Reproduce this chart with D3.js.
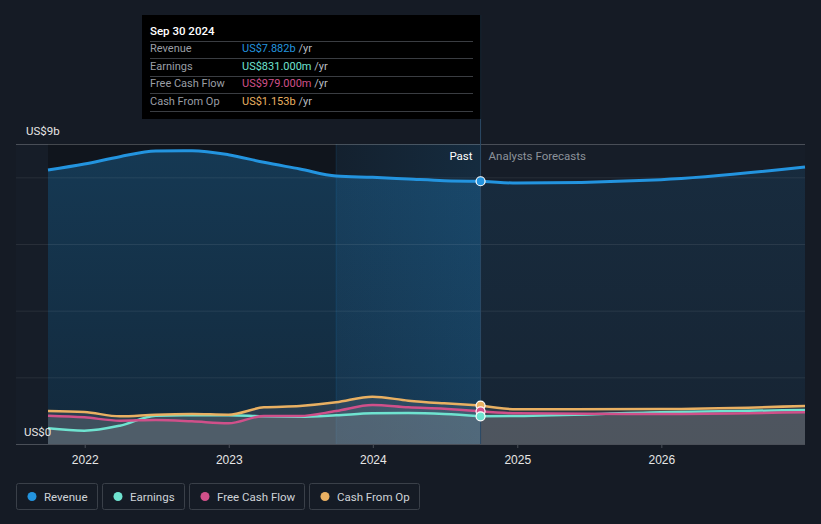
<!DOCTYPE html>
<html><head><meta charset="utf-8">
<script src="https://cdn.jsdelivr.net/npm/d3@7"></script>
<style>
html,body{margin:0;padding:0;background:#151b25;}
svg{display:block;font-family:Roboto, "Open Sans", sans-serif;}
</style></head>
<body>
<svg id="c" width="821" height="524"></svg>
<script>
// ---- data (US$ billions) ----
const pastDates = ["2021-09-30","2021-12-31","2022-03-31","2022-06-30","2022-09-30","2022-12-31","2023-03-31","2023-06-30","2023-09-30","2023-12-31","2024-03-31","2024-06-30","2024-09-30"];
const forecastDates = ["2024-09-30","2024-12-31","2025-12-31","2026-12-31"];
const revenuePast   = [8.22, 8.40, 8.62, 8.79, 8.80, 8.68, 8.45, 8.25, 8.04, 8.00, 7.95, 7.90, 7.882];
const earningsPast  = [0.47, 0.40, 0.55, 0.85, 0.86, 0.86, 0.83, 0.82, 0.86, 0.92, 0.93, 0.90, 0.831];
const fcfPast       = [0.85, 0.80, 0.70, 0.72, 0.68, 0.62, 0.84, 0.84, 0.99, 1.17, 1.10, 1.06, 0.979];
const cfoPast       = [0.99, 0.96, 0.83, 0.88, 0.90, 0.88, 1.10, 1.14, 1.25, 1.42, 1.30, 1.22, 1.153];
const revenueFc     = [7.882, 7.83, 7.93, 8.31];
const earningsFc    = [0.831, 0.84, 0.95, 1.02];
const fcfFc         = [0.979, 0.92, 0.90, 0.95];
const cfoFc         = [1.153, 1.04, 1.05, 1.14];
const xTicks = ["2022","2023","2024","2025","2026"];
const seriesNames = ["Revenue","Earnings","Free Cash Flow","Cash From Op"];
const seriesColors = ["#2394df","#6fe3d0","#d0508a","#e9b062"];
const tooltipValues = ["US$7.882b","US$831.000m","US$979.000m","US$1.153b"];
const tooltipDate = "Sep 30 2024";

const parse = d3.timeParse("%Y-%m-%d");
const svg = d3.select("#c");
const L = 16, R = 805, T = 144, B = 444;
const x = d3.scaleTime().domain([parse("2021-09-30"), parse("2026-12-31")]).range([48, R]);
const y = d3.scaleLinear().domain([0, 9]).range([B, T]);
const nowX = x(parse("2024-09-30"));
const yrAgoX = x(parse("2023-09-30"));

const mk = (dates, vals) => dates.map((d,i)=>({d:parse(d), v:vals[i]}));
const rev = mk(pastDates, revenuePast), revF = mk(forecastDates, revenueFc);
const small = [
  {p:mk(pastDates, earningsPast), f:mk(forecastDates, earningsFc), c:seriesColors[1]},
  {p:mk(pastDates, fcfPast), f:mk(forecastDates, fcfFc), c:seriesColors[2]},
  {p:mk(pastDates, cfoPast), f:mk(forecastDates, cfoFc), c:seriesColors[3]}
];

const defs = svg.append("defs");
const g1 = defs.append("linearGradient").attr("id","revPast").attr("x1",0).attr("x2",0).attr("y1",0).attr("y2",1);
g1.append("stop").attr("offset","0").attr("stop-color","#2394df").attr("stop-opacity",0.28);
g1.append("stop").attr("offset","1").attr("stop-color","#2394df").attr("stop-opacity",0.16);
const g2 = defs.append("linearGradient").attr("id","revFc").attr("x1",0).attr("x2",0).attr("y1",0).attr("y2",1);
g2.append("stop").attr("offset","0").attr("stop-color","#2394df").attr("stop-opacity",0.12);
g2.append("stop").attr("offset","1").attr("stop-color","#2394df").attr("stop-opacity",0.06);
const g3 = defs.append("linearGradient").attr("id","hl").attr("x1",0).attr("x2",1).attr("y1",0).attr("y2",0);
g3.append("stop").attr("offset","0").attr("stop-color","#2394df").attr("stop-opacity",0.03);
g3.append("stop").attr("offset","1").attr("stop-color","#2394df").attr("stop-opacity",0.12);

// plot background
svg.append("rect").attr("x",L).attr("y",T).attr("width",R-L).attr("height",B-T).attr("fill","#161d28");
svg.append("rect").attr("x",48).attr("y",T).attr("width",yrAgoX-48).attr("height",B-T).attr("fill","#10151d");
svg.append("rect").attr("x",yrAgoX).attr("y",T).attr("width",nowX-yrAgoX).attr("height",B-T).attr("fill","#131d29");

const curve = d3.curveMonotoneX;
const area = d3.area().x(d=>x(d.d)).y0(B).y1(d=>y(d.v)).curve(curve);
const line = d3.line().x(d=>x(d.d)).y(d=>y(d.v)).curve(curve);

svg.append("path").datum(rev).attr("d",area).attr("fill","url(#revPast)");
svg.append("path").datum(revF).attr("d",area).attr("fill","url(#revFc)");
// highlight last-year band
svg.append("rect").attr("x",yrAgoX).attr("y",T).attr("width",nowX-yrAgoX).attr("height",B-T).attr("fill","url(#hl)");
svg.append("line").attr("x1",yrAgoX).attr("x2",yrAgoX).attr("y1",T).attr("y2",B).attr("stroke","#2394df").attr("stroke-opacity",0.15);

// gridlines
const grid = [2,4,6,8,9];
svg.append("g").selectAll("line").data(grid).join("line")
  .attr("x1",L).attr("x2",R).attr("y1",d=>y(d)+0.5).attr("y2",d=>y(d)+0.5)
  .attr("stroke", "#ffffff").attr("stroke-opacity", d=> d===9 ? 0.22 : 0.08).attr("stroke-width",1);

// small series areas
small.forEach(s=>{
  svg.append("path").datum(s.p).attr("d",area).attr("fill","#b8b8b8").attr("fill-opacity",0.14);
  svg.append("path").datum(s.f).attr("d",area).attr("fill","#9a9a9a").attr("fill-opacity",0.17);
});

// vertical divider
svg.append("line").attr("x1",nowX).attr("x2",nowX).attr("y1",15).attr("y2",B).attr("stroke","#2b4a66").attr("stroke-width",1);

// lines
small.forEach(s=>{
  svg.append("path").datum(s.p).attr("d",line).attr("fill","none").attr("stroke",s.c).attr("stroke-width",2.5);
  svg.append("path").datum(s.f).attr("d",line).attr("fill","none").attr("stroke",s.c).attr("stroke-width",2.5);
});
svg.append("path").datum(rev).attr("d",line).attr("fill","none").attr("stroke",seriesColors[0]).attr("stroke-width",3);
svg.append("path").datum(revF).attr("d",line).attr("fill","none").attr("stroke",seriesColors[0]).attr("stroke-width",3);

// baseline
svg.append("line").attr("x1",L).attr("x2",R).attr("y1",B+0.5).attr("y2",B+0.5).attr("stroke","#4a4f58");

// dots at Sep 30 2024
const dotVals = [revenuePast[12], cfoPast[12], fcfPast[12], earningsPast[12]];
const dotCols = [seriesColors[0], seriesColors[3], seriesColors[2], seriesColors[1]];
dotVals.forEach((v,i)=>{
  svg.append("circle").attr("cx",nowX).attr("cy",y(v)).attr("r",4.5)
    .attr("fill",dotCols[i]).attr("stroke","#ffffff").attr("stroke-width",1.2);
});

// x axis
const xAxis = d3.axisBottom(x).tickValues(xTicks.map(t=>parse(t+"-01-01"))).tickFormat(d3.timeFormat("%Y")).tickSize(4);
const ax = svg.append("g").attr("transform",`translate(0,${B})`).call(xAxis);
ax.select(".domain").remove();
ax.selectAll("line").attr("stroke","#4a4f58");
ax.selectAll("text").attr("fill","#e6e6e6").attr("font-size",12).attr("dy","1.05em");

// y labels
svg.append("text").attr("x",26).attr("y",135).attr("fill","#e6e6e6").attr("font-size",11.5).text("US$9b");
svg.append("text").attr("x",24).attr("y",436).attr("fill","#e6e6e6").attr("font-size",11.5).text("US$0");

// Past / Analysts Forecasts
svg.append("text").attr("x",nowX-8).attr("y",160).attr("text-anchor","end").attr("fill","#ffffff").attr("font-size",11.5).text("Past");
svg.append("text").attr("x",nowX+8).attr("y",160).attr("fill","#8c929a").attr("font-size",11.5).text("Analysts Forecasts");

// tooltip
const tt = svg.append("g");
tt.append("rect").attr("x",142).attr("y",15).attr("width",nowX-142).attr("height",104).attr("fill","#000000");
tt.append("text").attr("x",150).attr("y",35).attr("fill","#ffffff").attr("font-size",11.5).attr("font-weight",500).text(tooltipDate);
const rowY = [48,66,83,101];
[41,58,76,93,111].forEach(ly=>{
  tt.append("line").attr("x1",150).attr("x2",473).attr("y1",ly+0.5).attr("y2",ly+0.5).attr("stroke","#3a3d42");
});
seriesNames.forEach((n,i)=>{
  tt.append("text").attr("x",150).attr("y",rowY[i]+4).attr("fill","#9a9ea5").attr("font-size",11).text(n);
  const t = tt.append("text").attr("x",242).attr("y",rowY[i]+4).attr("font-size",11);
  t.append("tspan").attr("fill",seriesColors[i]).text(tooltipValues[i]);
  t.append("tspan").attr("fill","#b8bcc2").text(" /yr");
});

// legend
const lg = svg.append("g");
let lx = 16;
const widths = [81,82,115,110];
seriesNames.forEach((n,i)=>{
  const g = lg.append("g").attr("transform",`translate(${lx},483)`);
  g.append("rect").attr("x",0.5).attr("y",0.5).attr("width",widths[i]).attr("height",26).attr("rx",2)
    .attr("fill","none").attr("stroke","#3a4049");
  g.append("circle").attr("cx",16).attr("cy",13.5).attr("r",4.5).attr("fill",seriesColors[i]);
  g.append("text").attr("x",28).attr("y",17.5).attr("fill","#cfd3d8").attr("font-size",11.5).text(n);
  lx += widths[i] + 5;
});
</script>
</body></html>
